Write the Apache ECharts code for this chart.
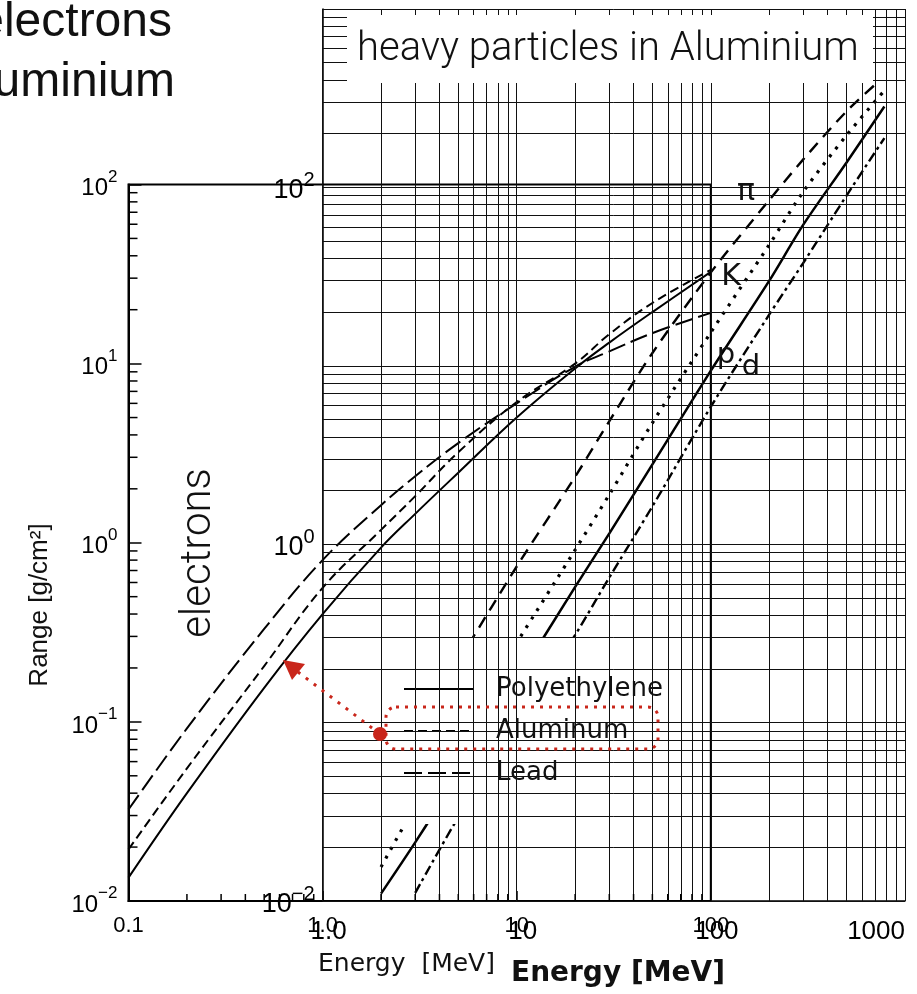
<!DOCTYPE html>
<html><head><meta charset="utf-8">
<script src="https://cdn.jsdelivr.net/npm/echarts@6/dist/echarts.min.js"></script>
<style>html,body{margin:0;padding:0;background:#fff}#c{width:917px;height:994px}</style>
</head><body><div id="c"></div>
<script>
// ---------- electrons (front chart) ----------
const energyElectron = [0.1, 0.2, 0.5, 1, 2, 3, 5, 10, 20, 30, 50, 100];
const rangePolyethylene = [0.0135, 0.040, 0.155, 0.40, 0.94, 1.45, 2.46, 5.0, 9.4, 13.1, 19.4, 32.5];
const rangeAluminum = [0.0194, 0.055, 0.205, 0.56, 1.18, 1.82, 3.2, 6.1, 10.0, 14.6, 21.8, 33.4];
const rangeLead = [0.0324, 0.092, 0.33, 0.80, 1.62, 2.35, 3.6, 6.0, 9.6, 11.7, 14.8, 19.2];
const legendNames = ['Polyethylene', 'Aluminum', 'Lead'];
const xTickLabelsElectron = ['0.1', '1.0', '10', '100'];

// ---------- heavy particles in Aluminium (back chart) ----------
const energyPion = [5, 10, 20, 30, 50, 100, 200, 300, 500, 740];
const rangePion = [0.22, 0.75, 2.39, 4.9, 11.8, 33.4, 85, 144, 267, 397];
const energyKaon = [2, 3, 5, 10, 20, 30, 50, 100, 200, 300, 500, 783];
const rangeKaon = [0.0155, 0.034, 0.082, 0.28, 0.93, 1.9, 4.79, 15.4, 47.8, 95, 196, 349];
const energyProton = [2, 3, 5, 10, 20, 30, 50, 100, 200, 300, 500, 783];
const rangeProton = [0.011, 0.0213, 0.051, 0.172, 0.576, 1.15, 2.80, 9.4, 30, 62, 138, 284];
const energyDeuteron = [3, 5, 10, 20, 30, 50, 100, 200, 300, 500, 783];
const rangeDeuteron = [0.0111, 0.0295, 0.0965, 0.31, 0.652, 1.63, 5.9, 19.4, 37.9, 90, 189];
const xTickLabelsHeavy = ['1.0', '10', '100', '1000'];

// grid / tick value lists
function decadeSteps(from, to) { const out = []; for (let e = from; e < to; e++) { const d = Math.pow(10, e); for (let k = 1; k <= 9; k++) out.push(+(d * k).toPrecision(3)); } out.push(Math.pow(10, to)); return out; }
function minorSteps(from, to) { const out = []; for (let e = from; e < to; e++) { const d = Math.pow(10, e); for (let k = 2; k <= 9; k++) out.push(+(d * k).toPrecision(3)); } return out; }
const xGridHeavy = decadeSteps(0, 3);
const yGridHeavy = decadeSteps(-2, 3);
const xMinorElectron = minorSteps(-1, 2);
const yMinorElectron = minorSteps(-2, 2);

const pair = (xs, ys) => xs.map((x, i) => [x, ys[i]]);
const expOf = v => Math.round(Math.log10(v));
function powLabel(v) { const e = expOf(v); const s = e < 0 ? '\u2212' + (-e) : '' + e; return '{b|10}{s|' + s + '}'; }

const RED = '#c9261b';
const chart = echarts.init(document.getElementById('c'), null, { renderer: 'canvas', width: 917, height: 994 });

const heavyLine = (name, xs, ys, type, width) => ({
  name, type: 'line', xAxisIndex: 0, yAxisIndex: 0, data: pair(xs, ys), symbol: 'none', smooth: 0.3,
  z: 3, silent: true, itemStyle: { color: '#000' }, lineStyle: { color: '#000', width, type, cap: 'butt' }
});
const eLine = (name, ys, type) => ({
  name, type: 'line', xAxisIndex: 1, yAxisIndex: 1, data: pair(energyElectron, ys), symbol: 'none', smooth: 0.4,
  z: 4, silent: true, itemStyle: { color: '#000' }, lineStyle: { color: '#000', width: 2, type }
});
const txt = (x, y, text, font, extra) => Object.assign({ type: 'text', x, y, z: 60,
  style: { text, font, fill: '#111', textAlign: 'center', textVerticalAlign: 'middle', verticalAlign: 'middle' } }, extra || {});
const txtL = (x, y, text, font, align, extra) => Object.assign({ type: 'text', x, y, z: 60,
  style: { text, font, fill: '#111', textAlign: align, textVerticalAlign: 'middle', verticalAlign: 'middle' } }, extra || {});

const option = {
  animation: false,
  backgroundColor: '#fff',
  grid: [
    { left: 322.6, right: 12, top: 9, bottom: 93, outerBoundsMode: 'none' },
    { left: 128.5, right: 206.2, top: 184.5, bottom: 93, show: true, borderColor: '#000', borderWidth: 2, backgroundColor: 'transparent', outerBoundsMode: 'none' }
  ],
  xAxis: [
    { gridIndex: 0, type: 'log', logBase: 10, min: 1, max: 1000, position: 'bottom',
      axisLine: { show: true, lineStyle: { color: '#000', width: 1.5 } }, axisTick: { show: false }, splitLine: { show: false },
      axisLabel: { margin: 18, fontSize: 26, color: '#000', fontFamily: 'Liberation Sans', alignMaxLabel: 'right', padding: [0, 0, 0, 12],
        formatter: v => xTickLabelsHeavy[expOf(v)] || '' } },
    { gridIndex: 1, type: 'log', logBase: 10, min: 0.1, max: 100, position: 'bottom',
      axisLine: { show: true, lineStyle: { color: '#000', width: 2 } },
      axisTick: { show: true, inside: true, length: 10, lineStyle: { color: '#000', width: 1.5 } }, splitLine: { show: false },
      axisLabel: { margin: 14, fontSize: 22, color: '#000', fontFamily: 'Liberation Sans',
        formatter: v => xTickLabelsElectron[expOf(v) + 1] || '' } }
  ],
  yAxis: [
    { gridIndex: 0, type: 'log', logBase: 10, min: 0.01, max: 1000,
      axisLine: { show: true, lineStyle: { color: '#000', width: 1.5 } }, axisTick: { show: false }, splitLine: { show: false },
      axisLabel: { margin: 8, color: '#000', fontSize: 26, formatter: v => (expOf(v) % 2 === 0 ? powLabel(v) : ''),
        rich: { b: { fontSize: 27, fontFamily: 'Liberation Sans', lineHeight: 34, verticalAlign: 'bottom', color: '#000' },
                s: { fontSize: 20, fontFamily: 'Liberation Sans', lineHeight: 18, verticalAlign: 'top', color: '#000' } } } },
    { gridIndex: 1, type: 'log', logBase: 10, min: 0.01, max: 100,
      axisLine: { show: true, lineStyle: { color: '#000', width: 2 } },
      axisTick: { show: true, inside: true, length: 13, lineStyle: { color: '#000', width: 1.5 } }, splitLine: { show: false },
      axisLabel: { margin: 11, color: '#000', fontSize: 24, formatter: powLabel,
        rich: { b: { fontSize: 24, fontFamily: 'Liberation Sans', lineHeight: 32, verticalAlign: 'bottom', color: '#000' },
                s: { fontSize: 17, fontFamily: 'Liberation Sans', lineHeight: 16, verticalAlign: 'top', color: '#000' } } } }
  ],
  legend: {
    data: legendNames, orient: 'vertical', left: 379, top: 638, padding: [38, 16, 38, 24],
    itemWidth: 70, itemHeight: 14, itemGap: 16, backgroundColor: '#fff', selectedMode: false,
    itemStyle: { opacity: 0, borderWidth: 0 },
    lineStyle: { width: 2, color: '#000' },
    textStyle: { fontFamily: 'DejaVu Sans', fontSize: 26, lineHeight: 24, color: '#111', padding: [0, 0, 0, 17] }
  },
  series: [
    { name: 'gridHeavy', type: 'line', xAxisIndex: 0, yAxisIndex: 0, data: [[1, 0.01]], symbol: 'none', silent: true, z: 1,
      lineStyle: { width: 0 },
      markLine: { silent: true, symbol: ['none', 'none'], label: { show: false }, animation: false,
        lineStyle: { color: '#111', width: 1, type: 'solid' }, emphasis: { disabled: true },
        data: xGridHeavy.map(v => ({ xAxis: v })).concat(yGridHeavy.map(v => ({ yAxis: v }))) } },
    heavyLine('pi', energyPion, rangePion, [12, 8], 2.4),
    heavyLine('K', energyKaon, rangeKaon, [3, 7], 3.2),
    heavyLine('p', energyProton, rangeProton, 'solid', 2.5),
    heavyLine('d', energyDeuteron, rangeDeuteron, [10, 4, 3, 4], 2.4),
    eLine('Polyethylene', rangePolyethylene, 'solid'),
    eLine('Aluminum', rangeAluminum, [9, 5]),
    eLine('Lead', rangeLead, [18, 6]),
    { name: 'yMinorTicks', type: 'custom', coordinateSystem: 'cartesian2d', xAxisIndex: 1, yAxisIndex: 1, silent: true, z: 5,
      data: yMinorElectron.map(v => [0.1, v]),
      renderItem: (p, api) => { const c = api.coord([api.value(0), api.value(1)]);
        return { type: 'line', shape: { x1: c[0], y1: c[1], x2: c[0] + 9, y2: c[1] }, style: { stroke: '#000', lineWidth: 1.5 } }; } },
    { name: 'xMinorTicks', type: 'custom', coordinateSystem: 'cartesian2d', xAxisIndex: 1, yAxisIndex: 1, silent: true, z: 5,
      data: xMinorElectron.map(v => [v, 0.01]),
      renderItem: (p, api) => { const c = api.coord([api.value(0), api.value(1)]);
        return { type: 'line', shape: { x1: c[0], y1: c[1], x2: c[0], y2: c[1] - 7 }, style: { stroke: '#000', lineWidth: 1.5 } }; } }
  ],
  graphic: { elements: [
    // title box of the heavy-particle chart
    { type: 'rect', shape: { x: 347, y: 15, width: 526, height: 68 }, style: { fill: '#fff' }, z: 50 },
    txtL(357, 50, 'heavy particles in Aluminium', '300 40px Roboto', 'left'),
    // cropped title of the electron chart
    txtL(172, 23, 'electrons', '48px "Liberation Sans"', 'right'),
    txtL(175, 83, 'in Aluminium', '48px "Liberation Sans"', 'right'),
    // in-chart vertical label
    txt(199, 553, 'electrons', '300 42px Roboto', { rotation: Math.PI / 2 }),
    // axis names
    txt(40, 605, 'Range [g/cm\u00b2]', '26px "Liberation Sans"', { rotation: Math.PI / 2 }),
    txtL(318, 964, 'Energy  [MeV]', '25px "DejaVu Sans"', 'left'),
    txtL(511, 974, 'Energy [MeV]', 'bold 28px "DejaVu Sans"', 'left', { z: 61 }),
    // particle labels
    txt(746, 192, '\u03c0', '30px "DejaVu Sans"'),
    txt(731, 277, 'K', '30px "DejaVu Sans"'),
    txt(726, 355, 'p', '29px "DejaVu Sans"'),
    txt(751, 367, 'd', '29px "DejaVu Sans"'),
    // red annotation
    { type: 'rect', z: 100, shape: { x: 386, y: 707, width: 272, height: 42, r: 10 }, style: { fill: 'none', stroke: RED, lineWidth: 3, lineDash: [3, 6] } },
    { type: 'polyline', z: 100, shape: { points: [[380, 734], [298, 672]] }, style: { stroke: RED, lineWidth: 3, lineDash: [3, 7], fill: 'none' } },
    { type: 'polygon', z: 100, shape: { points: [[283, 660], [305, 664], [292, 680]] }, style: { fill: RED } },
    { type: 'circle', z: 101, shape: { cx: 380, cy: 734, r: 7 }, style: { fill: RED } }
  ] }
};
chart.setOption(option);
</script>
</body></html>
